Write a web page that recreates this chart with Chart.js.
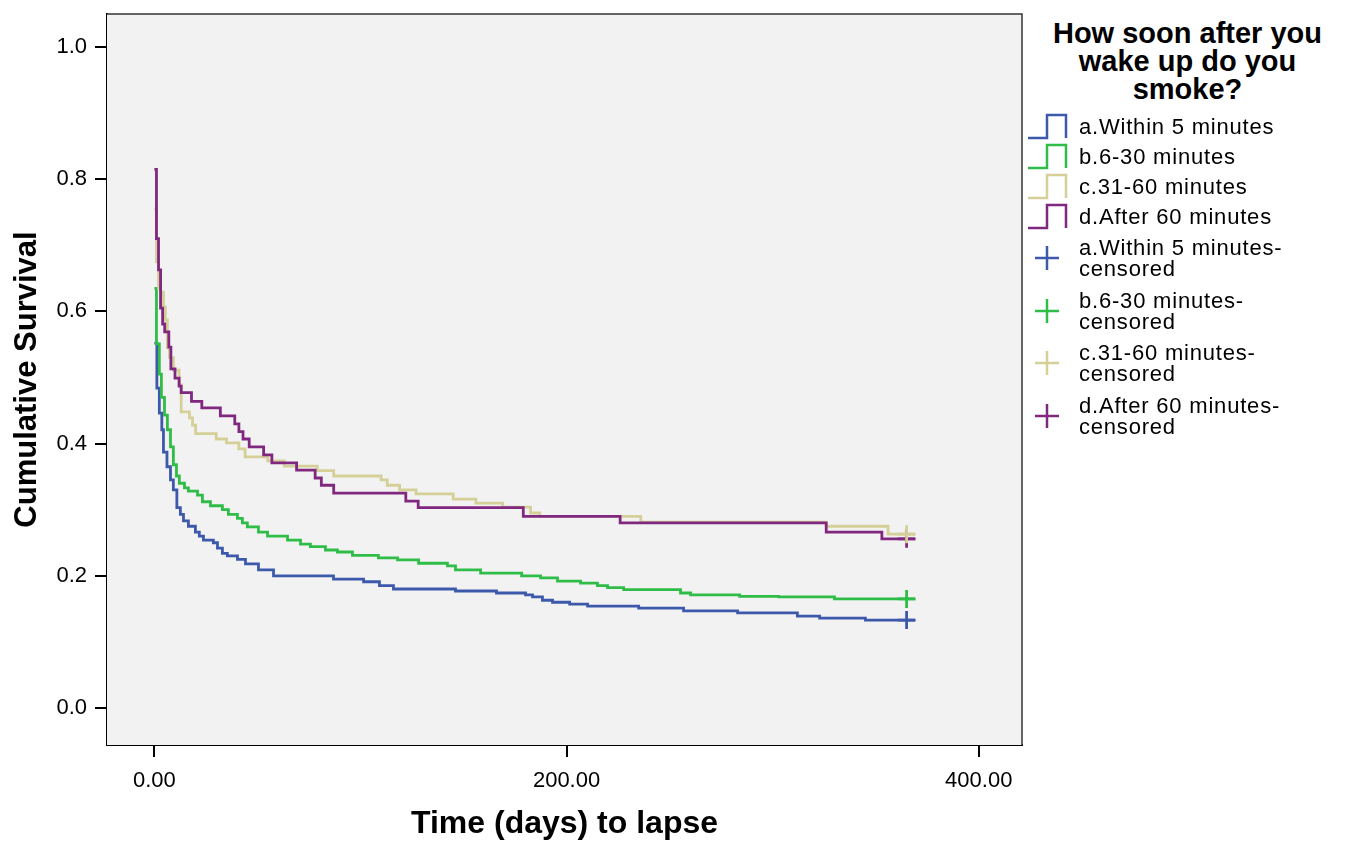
<!DOCTYPE html>
<html>
<head>
<meta charset="utf-8">
<script src="https://cdn.jsdelivr.net/npm/chart.js@4.4.1/dist/chart.umd.min.js"></script>
<style>
  body { margin: 0; background: #fff; font-family: 'Liberation Sans', Arial, sans-serif; }
  #wrap { position: relative; width: 1349px; height: 845px; }
  #km { position: absolute; left: 0; top: 0; }
  .lg-title { position: absolute; left: 1040px; width: 295px; top: 19px; text-align: center;
              font-weight: bold; font-size: 29px; line-height: 28px; color: #000; }
  .lg-text { position: absolute; left: 1079px; font-size: 22px; line-height: 21px;
             letter-spacing: 0.8px; color: #000; white-space: nowrap; }
  .lg-icon { position: absolute; left: 1026px; }
</style>
</head>
<body>
<div id="wrap">
  <canvas id="km" width="1040" height="845"></canvas>
  <div id="legend"></div>
</div>
<script>
// Kaplan-Meier curves (time in days, cumulative survival)
const aTime = [0, 1.2, 2.4, 3.6, 4.4, 6.1, 7.8, 9.2, 10.9, 12.6, 14.1, 16.5, 19.9, 21.8, 23.8, 28.6, 30.6, 33, 35.4, 40.3, 44.2, 50.5, 57.8, 86.9, 101.5, 109.2, 116, 146.1, 166, 180.1, 183.5, 188.3, 193.2, 201.5, 210.2, 235, 256.8, 283, 312, 322.8, 345, 369];
const aSurv = [0.552, 0.484, 0.446, 0.421, 0.387, 0.365, 0.345, 0.330, 0.303, 0.293, 0.283, 0.275, 0.266, 0.260, 0.254, 0.250, 0.242, 0.234, 0.230, 0.225, 0.218, 0.209, 0.200, 0.195, 0.191, 0.185, 0.180, 0.177, 0.174, 0.171, 0.168, 0.163, 0.160, 0.157, 0.154, 0.151, 0.147, 0.144, 0.139, 0.136, 0.133, 0.133];

const bTime = [0, 1, 2.4, 3.4, 4.9, 6.3, 7.8, 9.2, 10.7, 12.1, 14.6, 16.5, 20.9, 23.3, 27.2, 33, 35.9, 40.3, 42.7, 45.1, 50.5, 54.9, 64.6, 70.9, 75.7, 83, 88.8, 96.1, 108.7, 118, 128.2, 142.2, 146.1, 158.3, 178.2, 187.4, 195.6, 206.8, 215, 219.9, 227.7, 255.3, 260.2, 284, 302.9, 330, 369];
const bSurv = [0.635, 0.551, 0.505, 0.470, 0.443, 0.421, 0.395, 0.368, 0.351, 0.340, 0.333, 0.328, 0.322, 0.312, 0.306, 0.300, 0.293, 0.287, 0.280, 0.274, 0.266, 0.260, 0.254, 0.248, 0.244, 0.239, 0.236, 0.231, 0.227, 0.224, 0.219, 0.215, 0.209, 0.204, 0.200, 0.197, 0.192, 0.189, 0.185, 0.182, 0.179, 0.174, 0.171, 0.169, 0.168, 0.165, 0.165];

const cTime = [0, 1, 2, 3, 4.4, 5.3, 6.3, 7.3, 9.2, 12, 13, 17, 18.5, 20, 30, 35, 41, 44, 55, 63, 79, 87, 110, 113, 119, 127, 145, 156, 169, 182.5, 187, 236, 326, 356, 369];
const cSurv = [0.755, 0.675, 0.635, 0.629, 0.607, 0.587, 0.545, 0.530, 0.511, 0.489, 0.448, 0.439, 0.428, 0.415, 0.407, 0.401, 0.392, 0.380, 0.374, 0.366, 0.359, 0.351, 0.345, 0.337, 0.330, 0.324, 0.316, 0.310, 0.304, 0.295, 0.290, 0.281, 0.275, 0.263, 0.263];

const dTime = [0, 1, 2, 3, 4, 5, 7, 8, 10, 12, 13, 18, 23, 32, 39, 41, 43, 46, 53, 57, 69, 78, 81, 87, 122, 128, 179, 226, 326, 353, 369];
const dSurv = [0.815, 0.710, 0.663, 0.605, 0.581, 0.569, 0.546, 0.513, 0.499, 0.487, 0.477, 0.464, 0.454, 0.442, 0.430, 0.418, 0.407, 0.395, 0.383, 0.371, 0.360, 0.348, 0.337, 0.325, 0.313, 0.303, 0.290, 0.280, 0.266, 0.256, 0.256];

// censored cases (one per group, at the end of follow-up)
const censorTime = [365, 365, 365, 365];
const censorSurv = [0.133, 0.165, 0.263, 0.256];

const groups = ['a.Within 5 minutes', 'b.6-30 minutes', 'c.31-60 minutes', 'd.After 60 minutes'];
const colors = ['#3d59ab', '#2fbd48', '#d5cf98', '#80287f'];
const xTicks = [0, 200, 400];
const yTicks = [0, 0.2, 0.4, 0.6, 0.8, 1.0];

const toPts = (t, s) => t.map((v, i) => ({ x: v, y: s[i] }));
const curves = [toPts(aTime, aSurv), toPts(bTime, bSurv), toPts(cTime, cSurv), toPts(dTime, dSurv)];

const datasets = [];
curves.forEach((pts, i) => {
    datasets.push({
        label: groups[i],
        data: pts,
        showLine: true,
        stepped: true,
        borderColor: colors[i],
        borderWidth: 2.8,
        pointRadius: 0,
        fill: false,
        order: 4 - i
    });
});
censorTime.forEach((t, i) => {
    datasets.push({
        label: groups[i] + '-censored',
        data: [{ x: t, y: censorSurv[i] }],
        showLine: false,
        pointStyle: 'cross',
        pointRadius: 9,
        borderColor: colors[i],
        borderWidth: 2.8,
        order: 0
    });
});

// grey plot background and thin frame
Chart.register({
    id: 'plotFrame',
    beforeDatasetsDraw: (chart) => {
        const { ctx, chartArea: a } = chart;
        ctx.save();
        ctx.fillStyle = '#f2f2f2';
        ctx.fillRect(a.left, a.top, a.right - a.left, a.bottom - a.top);
        ctx.restore();
    },
    afterDraw: (chart) => {
        const { ctx, chartArea: a } = chart;
        ctx.save();
        ctx.strokeStyle = '#333';
        ctx.lineWidth = 1.5;
        ctx.beginPath();
        ctx.moveTo(a.left, a.top);
        ctx.lineTo(a.right, a.top);
        ctx.lineTo(a.right, a.bottom);
        ctx.stroke();
        ctx.restore();
    }
});

const font = 'Liberation Sans';

new Chart(document.getElementById('km').getContext('2d'), {
    type: 'scatter',
    data: { datasets },
    options: {
        responsive: false,
        animation: false,
        layout: { padding: { top: 14, right: 18, left: 0, bottom: 0 } },
        plugins: { legend: { display: false }, tooltip: { enabled: false } },
        scales: {
            x: {
                type: 'linear',
                min: -23,
                max: 421,
                afterBuildTicks: (axis) => { axis.ticks = xTicks.map(v => ({ value: v })); },
                afterFit: (axis) => { axis.height = 100; axis.paddingLeft = 0; axis.paddingRight = 0; },
                ticks: {
                    color: '#000',
                    font: { family: font, size: 22 },
                    padding: 11,
                    maxRotation: 0,
                    callback: (v) => v.toFixed(2)
                },
                grid: { drawOnChartArea: false, drawTicks: true, tickLength: 12, color: '#000', lineWidth: 2 },
                border: { display: true, color: '#000', width: 2 },
                title: {
                    display: true,
                    text: 'Time (days) to lapse',
                    color: '#000',
                    font: { family: font, size: 32, weight: 'bold', lineHeight: 1.2 },
                    padding: { top: 0, bottom: 2 }
                }
            },
            y: {
                type: 'linear',
                min: -0.056,
                max: 1.05,
                afterBuildTicks: (axis) => { axis.ticks = yTicks.map(v => ({ value: v })); },
                afterFit: (axis) => { axis.width = 107; axis.paddingTop = 0; axis.paddingBottom = 0; },
                ticks: {
                    color: '#000',
                    font: { family: font, size: 22 },
                    padding: 8,
                    callback: (v) => v.toFixed(1)
                },
                grid: { drawOnChartArea: false, drawTicks: true, tickLength: 12, color: '#000', lineWidth: 2 },
                border: { display: true, color: '#000', width: 2 },
                title: {
                    display: true,
                    text: 'Cumulative Survival',
                    color: '#000',
                    font: { family: font, size: 31, weight: 'bold', lineHeight: 1.2 },
                    padding: { top: 9, bottom: 0 }
                }
            }
        }
    }
});

// legend (SPSS style) built as HTML
const legend = document.getElementById('legend');
let html = '<div class="lg-title">How soon after you<br>wake up do you<br>smoke?</div>';
const lineRows = [127, 157, 187, 217];
groups.forEach((g, i) => {
    const cy = lineRows[i];
    html += '<svg class="lg-icon" style="top:' + (cy - 14) + 'px" width="44" height="28">' +
        '<polyline points="2,25 21,25 21,2 40,2 40,25" fill="none" stroke="' + colors[i] + '" stroke-width="2.5"/></svg>';
    html += '<div class="lg-text" style="top:' + (cy - 11) + 'px">' + g + '</div>';
});
const censRows = [258, 311, 363, 416];
groups.forEach((g, i) => {
    const cy = censRows[i];
    html += '<svg class="lg-icon" style="top:' + (cy - 14) + 'px" width="44" height="28">' +
        '<path d="M9,14 H33 M21,2 V26" fill="none" stroke="' + colors[i] + '" stroke-width="2.5"/></svg>';
    html += '<div class="lg-text" style="top:' + (cy - 21) + 'px">' + g + '-<br>censored</div>';
});
legend.innerHTML = html;
</script>
</body>
</html>
